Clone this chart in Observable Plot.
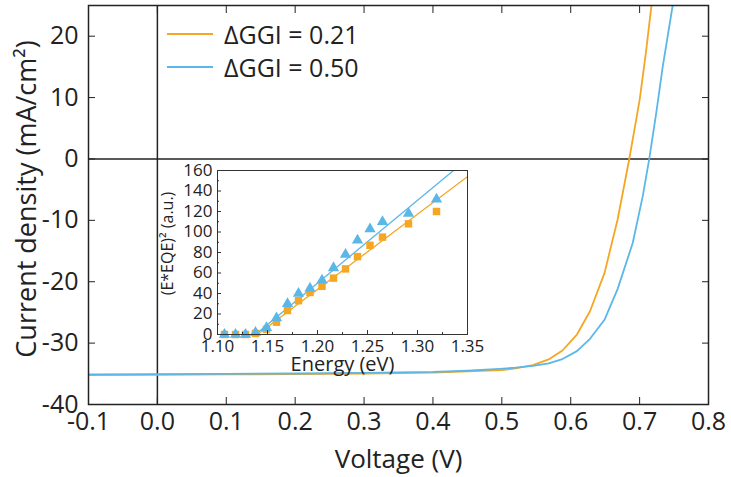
<!DOCTYPE html>
<html><head><meta charset="utf-8">
<script src="https://cdn.jsdelivr.net/npm/d3@7"></script>
<script src="https://cdn.jsdelivr.net/npm/@observablehq/plot@0.6"></script>
<style>
body{margin:0;background:#fff;}
#wrap{position:relative;width:731px;height:477px;font-family:"Open Sans",sans-serif;color:#222;}
#main{position:absolute;left:0;top:0;}
#inset{position:absolute;left:150px;top:150px;}
#legend{position:absolute;left:167px;top:17px;}
.row{display:flex;align-items:center;height:33px;font-size:25px;white-space:nowrap;}
.sw{width:46px;height:0;border-top:2px solid;margin-right:11px;}
</style></head><body>
<div id="wrap"><div id="main"></div><div id="inset"></div><div id="legend"></div></div>
<script>
// ---- data ----
const seriesNames = ["ΔGGI = 0.21", "ΔGGI = 0.50"];
const seriesColors = ["#F5A623", "#5BB7E8"];

// J-V curves
const voltage021 = [-0.1, 0.0, 0.1, 0.2, 0.3, 0.4, 0.45, 0.5, 0.52, 0.545, 0.569, 0.588, 0.609, 0.628, 0.649, 0.668, 0.685, 0.700, 0.709, 0.717, 0.722];
const current021 = [-35.2, -35.15, -35.1, -35.05, -34.95, -34.8, -34.6, -34.4, -34.1, -33.6, -32.6, -31.2, -28.6, -24.8, -18.6, -9.9, 0, 9.6, 17.2, 24.8, 29];
const voltage050 = [-0.1, 0.0, 0.1, 0.2, 0.3, 0.4, 0.45, 0.4965, 0.52, 0.545, 0.568, 0.588, 0.609, 0.628, 0.649, 0.668, 0.690, 0.7045, 0.714, 0.724, 0.7335, 0.748, 0.752];
const current050 = [-35.1, -35.05, -35.0, -34.95, -34.85, -34.7, -34.5, -34.2, -34.0, -33.7, -33.3, -32.6, -31.3, -29.3, -26.2, -21.2, -13.7, -6.1, 0, 7.4, 15, 25, 28];

const xTicks = [-0.1, 0.0, 0.1, 0.2, 0.3, 0.4, 0.5, 0.6, 0.7, 0.8];
const yTicks = [-40, -30, -20, -10, 0, 10, 20];

// Inset: (E*EQE)^2 vs energy
const energy021 = [1.107, 1.118, 1.128, 1.138, 1.149, 1.159, 1.170, 1.181, 1.1925, 1.2045, 1.216, 1.228, 1.240, 1.2525, 1.265, 1.291, 1.319];
const eqe021 = [0, 0, 0, 1, 5, 12, 23.4, 33, 41, 47, 55, 64, 76, 87, 95, 108, 120];
const energy050 = [1.107, 1.118, 1.128, 1.138, 1.149, 1.159, 1.170, 1.181, 1.1925, 1.2045, 1.216, 1.228, 1.240, 1.2525, 1.265, 1.291, 1.319];
const eqe050 = [0, 0, 0, 2, 6.5, 16, 30, 40, 45, 53, 65, 78, 92, 103, 110, 118, 132];
const fitE021 = [1.140, 1.350], fitY021 = [0, 154];
const fitE050 = [1.138, 1.336], fitY050 = [0, 160];

const insetXTicks = [1.10, 1.15, 1.20, 1.25, 1.30, 1.35];
const insetXMinor = [1.125, 1.175, 1.225, 1.275, 1.325];
const insetYTicks = [0, 20, 40, 60, 80, 100, 120, 140, 160];
const insetYMinor = [10, 30, 50, 70, 90, 110, 130, 150];

const mainXLabel = "Voltage (V)";
const mainYLabel = "Current density (mA/cm²)";
const insetXLabel = "Energy (eV)";
const insetYLabel = "(E*EQE)² (a.u.)";

// ---- tables ----
const jv021 = voltage021.map((v, i) => ({v, j: current021[i]}));
const jv050 = voltage050.map((v, i) => ({v, j: current050[i]}));
const pts021 = energy021.map((e, i) => ({e, q: eqe021[i]}));
const pts050 = energy050.map((e, i) => ({e, q: eqe050[i]}));
const fit021 = fitE021.map((e, i) => ({e, q: fitY021[i]}));
const fit050 = fitE050.map((e, i) => ({e, q: fitY050[i]}));

const ink = "#222";

// ---- main plot ----
const main = Plot.plot({
  width: 731, height: 477,
  marginLeft: 88, marginRight: 23, marginTop: 5, marginBottom: 73,
  style: {fontFamily: "'Open Sans', sans-serif", color: ink, background: "white"},
  x: {domain: [-0.1, 0.8]},
  y: {domain: [-40, 25]},
  marks: [
    Plot.ruleY([0], {stroke: ink, strokeWidth: 1.5}),
    Plot.ruleX([0], {stroke: ink, strokeWidth: 1.5}),
    Plot.line(jv021, {x: "v", y: "j", stroke: seriesColors[0], strokeWidth: 1.8, clip: true}),
    Plot.line(jv050, {x: "v", y: "j", stroke: seriesColors[1], strokeWidth: 1.8, clip: true}),
    Plot.frame({stroke: ink, strokeWidth: 1.5}),
    Plot.axisX(xTicks, {anchor: "bottom", tickSize: -7, tickPadding: 15, fontSize: 25, tickFormat: d => d.toFixed(1), label: null, stroke: ink}),
    Plot.axisX(xTicks, {anchor: "top", tickSize: -7, tickFormat: () => "", label: null, stroke: ink}),
    Plot.axisY(yTicks, {anchor: "left", tickSize: -7, tickPadding: 17, fontSize: 25, tickFormat: d => String(d), label: null, stroke: ink}),
    Plot.axisY(yTicks, {anchor: "right", tickSize: -7, tickFormat: () => "", label: null, stroke: ink}),
    Plot.text([mainXLabel], {frameAnchor: "bottom", textAnchor: "middle", lineAnchor: "middle", dy: 55, fontSize: 26, fill: ink}),
    Plot.text([mainYLabel], {frameAnchor: "left", textAnchor: "middle", lineAnchor: "middle", rotate: -90, dx: -61, dy: -6, fontSize: 27, fill: ink})
  ]
});
document.getElementById("main").appendChild(main);

// ---- inset ----
const inset = Plot.plot({
  width: 340, height: 230,
  marginLeft: 67, marginRight: 23, marginTop: 20, marginBottom: 46,
  style: {fontFamily: "'Open Sans', sans-serif", color: ink, background: "transparent", overflow: "visible"},
  x: {domain: [1.10, 1.35]},
  y: {domain: [0, 160]},
  marks: [
    Plot.line(fit050, {x: "e", y: "q", stroke: seriesColors[1], strokeWidth: 1.3, clip: true}),
    Plot.line(fit021, {x: "e", y: "q", stroke: seriesColors[0], strokeWidth: 1.3, clip: true}),
    Plot.dot(pts021, {x: "e", y: "q", symbol: "square", r: 4.2, fill: seriesColors[0]}),
    Plot.dot(pts050, {x: "e", y: "q", symbol: "triangle", r: 4.2, fill: seriesColors[1]}),
    Plot.frame({stroke: "#333", strokeWidth: 1}),
    Plot.axisX(insetXTicks, {anchor: "bottom", tickSize: -4, tickPadding: 9, fontSize: 17, tickFormat: d => d.toFixed(2), label: null, stroke: "#333"}),
    Plot.axisX(insetXMinor, {anchor: "bottom", tickSize: -2, tickFormat: () => "", label: null, stroke: "#333"}),
    Plot.axisY(insetYTicks, {anchor: "left", tickSize: -4, tickPadding: 9, fontSize: 17, tickFormat: d => String(d), label: null, stroke: "#333"}),
    Plot.axisY(insetYMinor, {anchor: "left", tickSize: -2, tickFormat: () => "", label: null, stroke: "#333"}),
    Plot.text([insetXLabel], {frameAnchor: "bottom", textAnchor: "middle", lineAnchor: "middle", dy: 30, fontSize: 20, fill: ink}),
    Plot.text([insetYLabel], {frameAnchor: "left", textAnchor: "middle", lineAnchor: "middle", rotate: -90, dx: -50, dy: -9, fontSize: 16, fill: ink})
  ]
});
document.getElementById("inset").appendChild(inset);

// ---- legend ----
const legend = document.getElementById("legend");
seriesNames.forEach((name, i) => {
  const row = document.createElement("div");
  row.className = "row";
  const sw = document.createElement("span");
  sw.className = "sw";
  sw.style.borderTopColor = seriesColors[i];
  const tx = document.createElement("span");
  tx.textContent = name;
  row.appendChild(sw); row.appendChild(tx);
  legend.appendChild(row);
});
</script>
</body></html>
